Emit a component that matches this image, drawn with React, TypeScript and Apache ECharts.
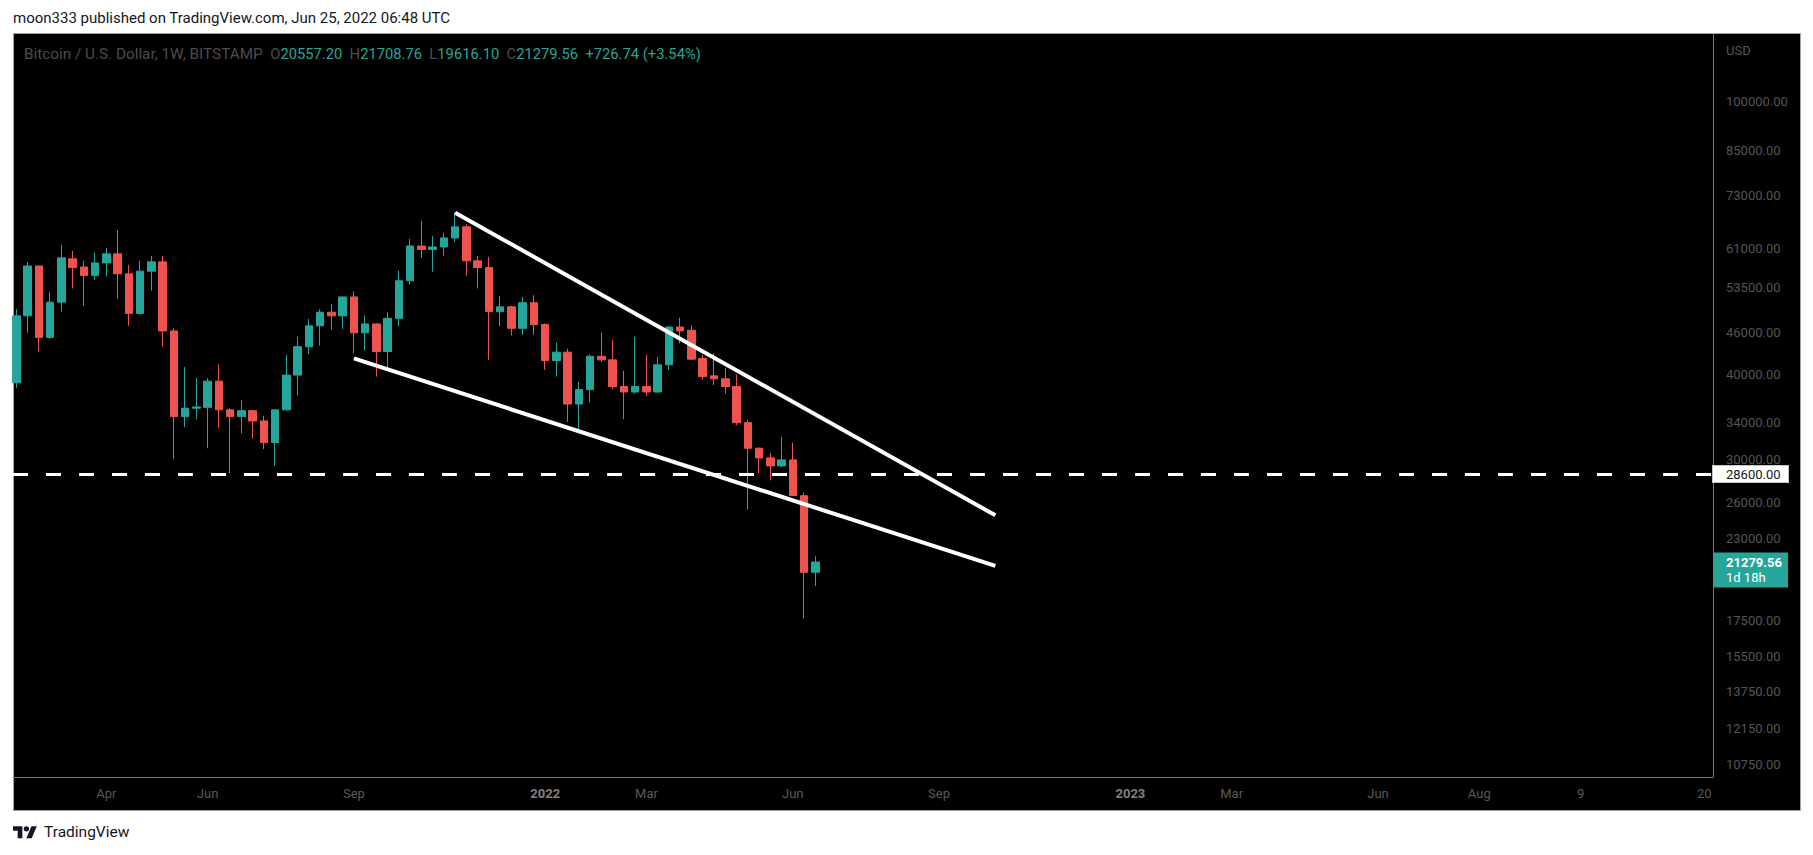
import React, { useEffect, useRef } from 'react';
import * as echarts from 'echarts';

// ---- data (weekly BTC/USD, BITSTAMP) ----
const weeks = [
  '2021-02-08','2021-02-15','2021-02-22','2021-03-01','2021-03-08','2021-03-15','2021-03-22','2021-03-29',
  '2021-04-05','2021-04-12','2021-04-19','2021-04-26','2021-05-03','2021-05-10','2021-05-17','2021-05-24',
  '2021-05-31','2021-06-07','2021-06-14','2021-06-21','2021-06-28','2021-07-05','2021-07-12','2021-07-19',
  '2021-07-26','2021-08-02','2021-08-09','2021-08-16','2021-08-23','2021-08-30','2021-09-06','2021-09-13',
  '2021-09-20','2021-09-27','2021-10-04','2021-10-11','2021-10-18','2021-10-25','2021-11-01','2021-11-08',
  '2021-11-15','2021-11-22','2021-11-29','2021-12-06','2021-12-13','2021-12-20','2021-12-27','2022-01-03',
  '2022-01-10','2022-01-17','2022-01-24','2022-01-31','2022-02-07','2022-02-14','2022-02-21','2022-02-28',
  '2022-03-07','2022-03-14','2022-03-21','2022-03-28','2022-04-04','2022-04-11','2022-04-18','2022-04-25',
  '2022-05-02','2022-05-09','2022-05-16','2022-05-23','2022-05-30','2022-06-06','2022-06-13','2022-06-20',
];
const opens = [
  38900, 48700, 57600, 45300, 51000, 59000, 57400, 55800,
  58200, 60000, 56100, 49100, 56600, 58400, 46300, 34700,
  35700, 35800, 39100, 35500, 34700, 35400, 34200, 31800,
  35500, 39900, 43900, 47100, 49300, 48700, 51900, 46000,
  47400, 43200, 48300, 54800, 61600, 60900, 61400, 63300,
  65700, 58600, 57300, 49400, 50200, 46700, 50900, 47300,
  41900, 43100, 36200, 38000, 42500, 42000, 38400, 37700,
  38400, 37700, 41300, 46900, 46400, 42200, 39800, 39400,
  38400, 34000, 31200, 30200, 29400, 30000, 26600, 20557.20,
];
const highs = [
  49800, 58400, 57700, 52800, 61800, 60600, 58600, 60200,
  61200, 65000, 57800, 58600, 59600, 59600, 46800, 41000,
  39500, 39500, 41400, 35700, 36700, 35500, 34800, 35500,
  42700, 45400, 48200, 49800, 50700, 51950, 52900, 48800,
  47500, 49300, 56700, 63100, 67000, 63700, 64400, 69000,
  66300, 59600, 59400, 52100, 50400, 51900, 52200, 47500,
  44500, 43600, 39000, 42800, 46000, 44900, 40500, 45400,
  42700, 42400, 47100, 48400, 47200, 42700, 43000, 40900,
  40000, 34300, 31300, 30700, 32400, 31800, 26900, 21708.76,
];
const lows = [
  38200, 46000, 43200, 45100, 49400, 53400, 50400, 55000,
  55600, 51600, 47100, 48900, 53000, 43900, 30100, 33500,
  34400, 31200, 33400, 28700, 32800, 32200, 31100, 29400,
  35400, 37300, 42800, 44100, 46500, 46600, 43000, 43400,
  39700, 40900, 47000, 54100, 59200, 56500, 59600, 62400,
  55700, 53400, 42000, 47000, 45600, 45700, 45700, 40600,
  39700, 34100, 33100, 36400, 41700, 38100, 34400, 37500,
  37200, 37600, 40600, 44400, 42000, 39300, 38600, 37500,
  33700, 25400, 28700, 28000, 29300, 26600, 17600, 19616.10,
];
const closes = [
  48700, 57600, 45300, 51000, 59200, 57300, 55800, 58200,
  60000, 56100, 49100, 56600, 58400, 46300, 34700, 35700,
  35850, 39100, 35500, 34700, 35400, 34200, 31800, 35500,
  39900, 43900, 47100, 49300, 48700, 51900, 46000, 47400,
  43200, 48300, 54800, 61600, 60900, 61400, 63300, 65700,
  58600, 57300, 49400, 50200, 46700, 50900, 47300, 41900,
  43100, 36200, 38000, 42500, 42000, 38400, 37700, 38400,
  37700, 41300, 46900, 46300, 42100, 39700, 39400, 38400,
  34000, 31200, 30200, 29400, 30000, 26600, 20552.82, 21279.56,
];

const upperTrendDates = ['2021-11-08', '2022-10-10'];
const upperTrendPrices = [68900, 24900];
const lowerTrendDates = ['2021-09-06', '2022-10-10'];
const lowerTrendPrices = [42200, 21000];

const levelPrice = 28600;
const countdownText = '1d 18h';

const priceTicks = [100000, 85000, 73000, 61000, 53500, 46000, 40000, 34000, 30000, 26000, 23000, 17500, 15500, 13750, 12150, 10750];
const timeTickDates = ['2021-04-05','2021-06-07','2021-09-06','2022-01-03','2022-03-07','2022-06-06','2022-09-05','2023-01-02','2023-03-06','2023-06-05','2023-08-07','2023-10-09','2023-12-25'];
const timeTickLabels = ['Apr','Jun','Sep','2022','Mar','Jun','Sep','2023','Mar','Jun','Aug','9','20'];
const yearLabels = ['2022', '2023'];

// visible range
const viewStartWeek = -47.29;
const viewEndWeek = 103.77;
const viewMinPrice = 10324;
const viewMaxPrice = 125690;

const anchorDate = '2022-01-03';
const weekIndex = (d: string) => Math.round((Date.parse(d) - Date.parse(anchorDate)) / 604800000);

const UP = '#26a69a';
const DOWN = '#ef5350';
const FONT = 'Roboto, "Liberation Sans", sans-serif';

const logoPath = 'M14 22H7V11H0V4h14v18zM28 22h-8l7.5-18h8L28 22zM20 12a4 4 0 1 0 0-8a4 4 0 1 0 0 8z';

export default function App() {
  const ref = useRef<HTMLDivElement>(null);
  useEffect(() => {
    if (!ref.current) return;
    try {
      echarts.graphic.registerShape('tvlogo', echarts.graphic.extendPath(logoPath, {}) as any);
    } catch (e) {}
    const chart = echarts.init(ref.current, null, { renderer: 'svg' });

    const candleData = weeks.map((d, k) => [weekIndex(d), opens[k], closes[k], lows[k], highs[k]]);
    const last = weeks.length - 1;
    const chg = closes[last] - closes[last - 1];
    const pct = (chg / closes[last - 1]) * 100;
    const sign = chg >= 0 ? '+' : '';
    const timeTickValues = timeTickDates.map(weekIndex);
    const labelFor = (v: number) => {
      const k = timeTickValues.indexOf(Math.round(v));
      if (k < 0) return '';
      const t = timeTickLabels[k];
      return yearLabels.includes(t) ? `{b|${t}}` : t;
    };

    const legendText =
      `{h|Bitcoin / U.S. Dollar, 1W, BITSTAMP}{h|  }{g|O}{t|${opens[last].toFixed(2)}}{g|  H}{t|${highs[last].toFixed(2)}}` +
      `{g|  L}{t|${lows[last].toFixed(2)}}{g|  C}{t|${closes[last].toFixed(2)}}{t|  ${sign}${chg.toFixed(2)} (${sign}${pct.toFixed(2)}%)}`;

    const option: any = {
      animation: false,
      backgroundColor: '#ffffff',
      textStyle: { fontFamily: FONT },
      grid: { left: 13, top: 34, width: 1700, height: 743, show: false, containLabel: false, outerBoundsMode: 'none' },
      xAxis: {
        type: 'value',
        min: viewStartWeek,
        max: viewEndWeek,
        axisLine: { show: true, onZero: false, lineStyle: { color: '#777777', width: 1 } },
        axisTick: { show: false },
        splitLine: { show: false },
        axisLabel: {
          customValues: timeTickValues,
          formatter: labelFor,
          margin: 10,
          color: '#5a5a5a',
          fontSize: 13,
          fontFamily: FONT,
          rich: { b: { fontWeight: 'bold', color: '#808080', fontSize: 13, fontFamily: FONT } },
        },
      },
      yAxis: {
        type: 'log',
        logBase: 10,
        position: 'right',
        min: viewMinPrice,
        max: viewMaxPrice,
        axisLine: { show: true, onZero: false, lineStyle: { color: '#777777', width: 1 } },
        axisTick: { show: false },
        splitLine: { show: false },
        axisLabel: {
          customValues: priceTicks,
          formatter: (v: number) => Number(v).toFixed(2),
          margin: 13,
          color: '#555555',
          fontSize: 13,
          fontFamily: FONT,
        },
      },
      series: [
        {
          type: 'candlestick',
          data: candleData,
          dimensions: ['week', 'open', 'close', 'lowest', 'highest'],
          encode: { x: 0, y: [1, 2, 3, 4] },
          barWidth: 8,
          clip: true,
          z: 2,
          itemStyle: {
            color: UP,
            color0: DOWN,
            borderColor: UP,
            borderColor0: DOWN,
            borderColorDoji: UP,
            borderWidth: 1,
          },
          markLine: {
            symbol: ['none', 'none'],
            silent: true,
            animation: false,
            z: 4,
            data: [
              {
                yAxis: levelPrice,
                lineStyle: { color: '#ffffff', width: 3, type: [15, 18] },
                label: {
                  show: true,
                  position: 'end',
                  distance: 0,
                  formatter: (p: any) => Number(p.value).toFixed(2),
                  backgroundColor: '#ffffff',
                  borderColor: '#c8c8c8',
                  borderWidth: 1,
                  color: '#131722',
                  fontSize: 13,
                  fontFamily: FONT,
                  padding: [2, 6, 1, 13],
                  width: 56,
                },
              },
              {
                yAxis: closes[last],
                lineStyle: { color: 'rgba(0,0,0,0)', width: 0 },
                label: {
                  show: true,
                  position: 'end',
                  distance: 0,
                  offset: [0, 8],
                  formatter: `{p|${closes[last].toFixed(2)}}\n{c|${countdownText}}`,
                  backgroundColor: UP,
                  color: '#ffffff',
                  padding: [3, 6, 2, 13],
                  width: 56,
                  rich: {
                    p: { color: '#ffffff', fontWeight: 'bold', fontSize: 13, lineHeight: 15, fontFamily: FONT },
                    c: { color: '#ffffff', fontSize: 13, lineHeight: 15, fontFamily: FONT },
                  },
                },
              },
            ],
          },
        },
        {
          type: 'line',
          data: upperTrendDates.map((d, k) => [weekIndex(d), upperTrendPrices[k]]),
          symbol: 'none',
          z: 5,
          lineStyle: { color: '#ffffff', width: 4, cap: 'butt' },
        },
        {
          type: 'line',
          data: lowerTrendDates.map((d, k) => [weekIndex(d), lowerTrendPrices[k]]),
          symbol: 'none',
          z: 5,
          lineStyle: { color: '#ffffff', width: 4, cap: 'butt' },
        },
      ],
      graphic: [
        {
          type: 'rect',
          z: -100,
          silent: true,
          shape: { x: 13.5, y: 33.5, width: 1787, height: 777 },
          style: { fill: '#000000', stroke: '#a3a3a3', lineWidth: 1 },
        },
        {
          type: 'text',
          x: 13,
          y: 18,
          silent: true,
          style: {
            text: 'moon333 published on TradingView.com, Jun 25, 2022 06:48 UTC',
            fill: '#131722',
            fontSize: 15,
            fontFamily: FONT,
            verticalAlign: 'middle',
            align: 'left',
          },
        },
        {
          type: 'text',
          x: 24,
          y: 54,
          z: 10,
          silent: true,
          style: {
            text: legendText,
            fill: '#4c4c4c',
            fontSize: 15.3,
            fontFamily: FONT,
            verticalAlign: 'middle',
            align: 'left',
            rich: {
              h: { fill: '#4c4c4c', fontSize: 15.3, fontFamily: FONT },
              g: { fill: '#4c4c4c', fontSize: 14.75, fontFamily: FONT },
              t: { fill: UP, fontSize: 14.75, fontFamily: FONT },
            },
          },
        },
        {
          type: 'text',
          x: 1726,
          y: 50,
          z: 10,
          silent: true,
          style: { text: 'USD', fill: '#555555', fontSize: 13, fontFamily: FONT, verticalAlign: 'middle', align: 'left' },
        },
        {
          type: 'tvlogo',
          x: 13,
          y: 823.5,
          scaleX: 0.67,
          scaleY: 0.67,
          silent: true,
          style: { fill: '#131722' },
        },
        {
          type: 'text',
          x: 44,
          y: 832,
          silent: true,
          style: { text: 'TradingView', fill: '#131722', fontSize: 15.5, fontFamily: FONT, verticalAlign: 'middle', align: 'left' },
        },
      ],
    };
    chart.setOption(option);
    return () => chart.dispose();
  }, []);
  return <div ref={ref} style={{ position: 'absolute', left: 0, top: 0, width: 1813, height: 855 }} />;
}
